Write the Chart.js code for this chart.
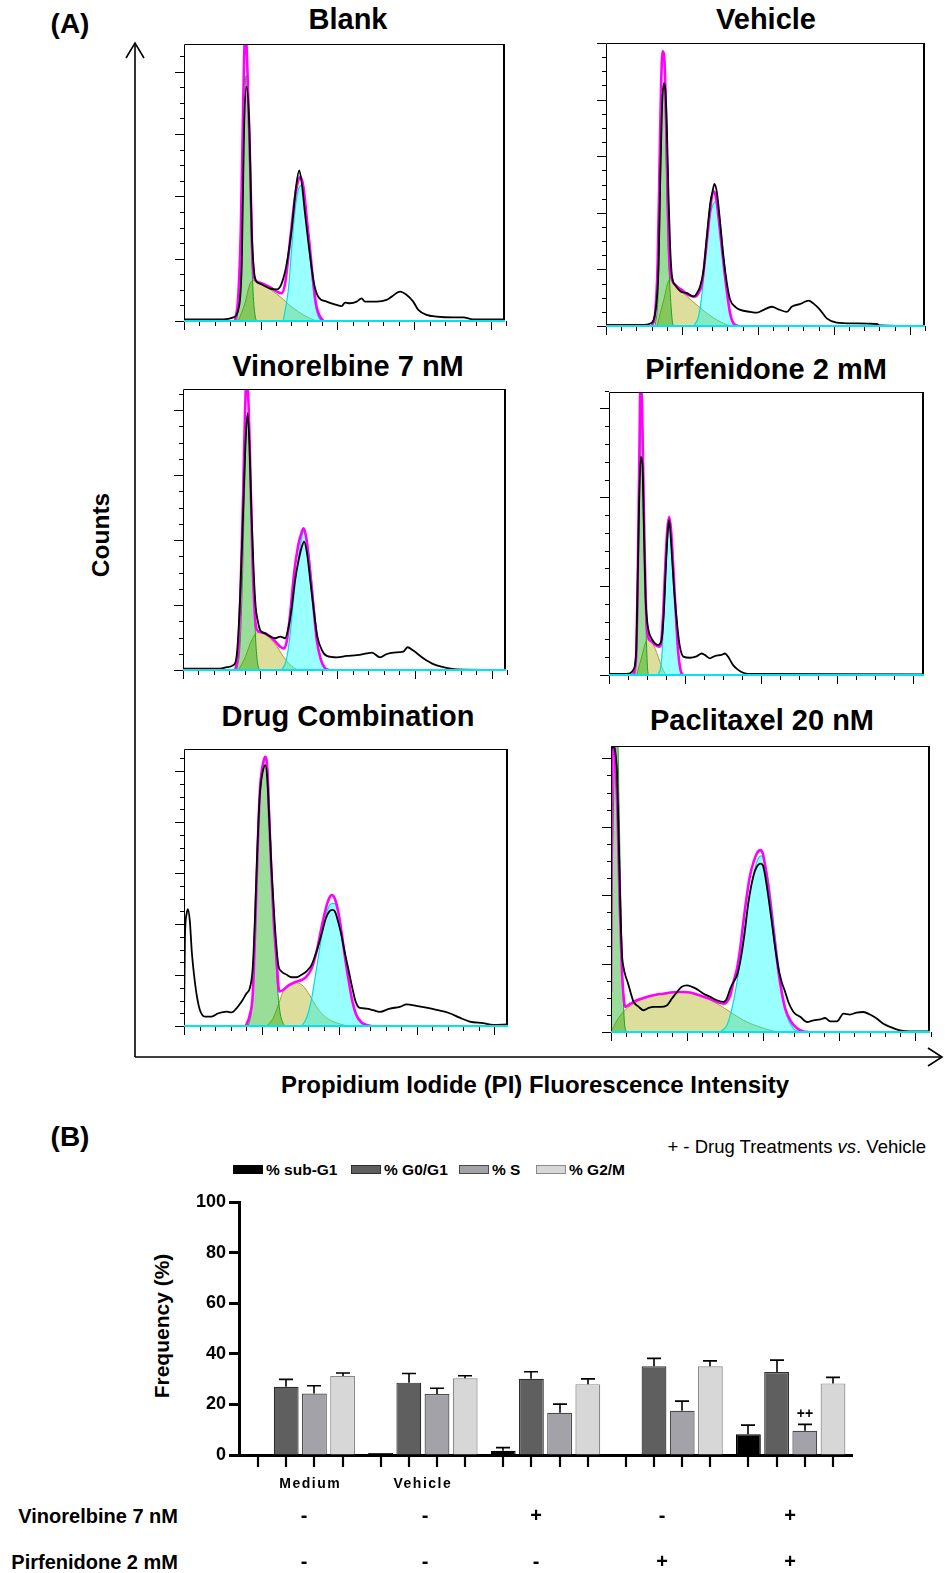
<!DOCTYPE html>
<html>
<head>
<meta charset="utf-8">
<title>Cell cycle analysis</title>
<script src="https://cdn.jsdelivr.net/npm/chart.js@4.4.1/dist/chart.umd.min.js"></script>
<style>
  body { margin: 0; background: #fff; }
  #page { position: relative; width: 945px; height: 1573px; overflow: hidden;
          font-family: 'Liberation Sans', Arial, sans-serif; color: #000; }
  #page canvas, #page svg { position: absolute; }
  .t { position: absolute; white-space: nowrap; font-weight: bold; transform: translate(-50%, -50%); }
  .r { position: absolute; white-space: nowrap; font-weight: bold; transform: translate(-100%, -50%); }
  .l { position: absolute; white-space: nowrap; font-weight: bold; transform: translate(0, -50%); }
  .title { font-size: 29px; }
  .sw { position: absolute; width: 30px; height: 9px; box-sizing: border-box; }
</style>
</head>
<body>
<div id="page">
  <svg width="945" height="1573" style="left:0;top:0">
    <g stroke="#000" stroke-width="1.6" fill="none">
      <line x1="135" y1="44" x2="135" y2="1057"/>
      <polyline points="126,58 135,43 144,58"/>
      <line x1="135" y1="1057" x2="941" y2="1057"/>
      <polyline points="928,1048 942,1057 928,1066"/>
    </g>
  </svg>

  <div class="t" style="left:70px;top:24px;font-size:28px">(A)</div>
  <div class="t title" style="left:348px;top:19px">Blank</div>
  <div class="t title" style="left:766px;top:19px">Vehicle</div>
  <div class="t title" style="left:348px;top:366px">Vinorelbine 7 nM</div>
  <div class="t title" style="left:766px;top:369px">Pirfenidone 2 mM</div>
  <div class="t title" style="left:348px;top:716px">Drug Combination</div>
  <div class="t title" style="left:762px;top:720px">Paclitaxel 20 nM</div>
  <div class="t" style="left:101px;top:535px;font-size:24.5px;transform:translate(-50%,-50%) rotate(-90deg)">Counts</div>
  <div class="t" style="left:535px;top:1085px;font-size:24px">Propidium Iodide (PI) Fluorescence Intensity</div>

  <canvas id="hBlank"></canvas>
  <canvas id="hVehicle"></canvas>
  <canvas id="hVino"></canvas>
  <canvas id="hPirf"></canvas>
  <canvas id="hCombo"></canvas>
  <canvas id="hPacli"></canvas>

  <div class="t" style="left:70px;top:1137px;font-size:28px">(B)</div>
  <div class="r" style="left:926px;top:1147px;font-size:18.5px;font-weight:normal">+ - Drug Treatments <i>vs</i>. Vehicle</div>
  <div id="legend"></div>
  <div class="t" style="left:162px;top:1326px;font-size:21px;transform:translate(-50%,-50%) rotate(-90deg)">Frequency (%)</div>
  <div class="r" style="left:178px;top:1516px;font-size:20px">Vinorelbine 7 nM</div>
  <div class="r" style="left:178px;top:1562px;font-size:20px">Pirfenidone 2 mM</div>

  <canvas id="cycle"></canvas>
</div>

<script>
// ---- (A) DNA content histograms: [channel %, counts % of frame] ----
// black = measured counts, magenta = model fit, green = G0/G1, yellow = S, cyan = G2/M

const blankCounts = [[0,0.6],[12.3,0.6],[15.4,1.3],[16.9,4],[18,20.5],[18.7,68.7],[19.5,84.6],[20.4,68.7],[21.1,32.6],[21.8,18.2],[22.4,14.6],[23.7,13.5],[26.8,11.7],[28.9,11.4],[30.4,13.5],[32,20.7],[33.5,32.7],[34.9,48.4],[35.9,54.4],[36.7,49.6],[37.7,38.8],[39.3,23.2],[40.5,13.6],[41.8,8.8],[44.4,7],[47.6,5.8],[49.1,5.4],[50.2,6.6],[51.7,6.4],[53.8,7],[55.3,8.2],[56.4,7],[60,7],[63.1,7.6],[64.7,8.8],[67.3,10.6],[69.4,9.4],[71.4,7],[73,4],[75.6,2.2],[78.7,1.6],[83.9,1.3],[87,1.3],[90.1,0.6],[100,0.6]];
const blankFit = [[15.9,0],[16.9,8.8],[17.7,32.9],[18.3,69],[18.7,93.1],[19,103],[19.5,99],[20,80.9],[20.6,56.8],[21.2,26.7],[21.8,16],[22.8,14.2],[24.7,13.4],[26.8,12.2],[28.9,10.6],[30.4,10],[31.5,13.5],[32.5,23.1],[33.5,34],[34.6,44.8],[35.6,50.8],[36.3,52],[37.2,48.4],[38.2,37.6],[39.3,25.5],[40.3,13.5],[41.3,5.1],[42.4,1.6],[43.4,0]];
const blankG1 = [[16.4,0],[17.4,11.2],[18,32.9],[18.5,63],[19.1,85.9],[19.5,88.8],[19.9,81.2],[20.4,57.2],[21,27.1],[21.6,8.8],[22.2,1.6],[22.6,0]];
const blankS = [[16.9,0],[19,6.4],[20.6,13.6],[21.8,14.6],[23.7,13.8],[25.8,12.3],[27.8,10.6],[29.9,8.8],[32,6.6],[34.1,4.6],[37.2,2.2],[40.3,0.4],[41.8,0]];
const blankG2 = [[30.9,0],[32.5,11.2],[33.5,25.6],[34.6,40.1],[35.6,47.3],[36.7,49.1],[37.7,43.7],[38.7,30.5],[39.8,17.3],[40.8,6.4],[41.8,1.6],[42.9,0]];

const vehicleCounts = [[0,0.4],[11.8,0.4],[13.9,0.9],[14.9,2.1],[16,10.4],[16.5,22.2],[17,51.4],[17.5,75],[18.1,85.8],[18.6,83.5],[19.1,69.3],[19.6,45.8],[20.1,28.1],[20.7,17.5],[21.7,14.5],[23.3,12.3],[25.4,11.6],[27.5,10.4],[28.5,11.6],[29.5,14],[30.6,19.8],[31.6,31.6],[32.7,43.4],[33.5,48.1],[34,50.2],[34.8,46.9],[35.8,36.3],[36.8,24.5],[37.9,15.1],[38.9,9.4],[40.5,6.8],[42.1,5.7],[45.2,5],[47.3,4.7],[49.4,5.7],[52,6.8],[54.1,5.9],[56.7,5],[58.2,6.8],[60.9,7.8],[63.5,9],[65,8],[67.1,5.7],[69.2,2.7],[72.3,1.2],[77.6,0.9],[84.9,0.7],[85.9,0.2],[100,0]];
const vehicleFit = [[14.4,0],[15.4,4.5],[16.2,22.2],[16.7,51.7],[17.2,81.1],[17.7,97.1],[18.3,94.1],[18.8,75.2],[19.3,45.8],[19.9,22.2],[20.7,16.3],[21.7,14.5],[23.8,12.7],[25.9,10.9],[28,10.4],[29,11.6],[30.1,15.1],[31.1,24.5],[32.2,36.3],[33.2,45.8],[33.9,47.5],[34.6,44.6],[35.6,35.1],[36.6,24.5],[37.7,13.9],[38.9,4.5],[40,0.9],[41.5,0]];
const vehicleG1 = [[15.4,0],[16.3,10.4],[16.8,34],[17.3,63.4],[17.8,84],[18.3,84.1],[18.7,69.3],[19.1,45.8],[19.7,22.2],[20.4,6.8],[21,0.4],[21.4,0]];
const vehicleS = [[16,0],[18.1,9.2],[19.9,16.3],[22.2,14],[25.4,10.4],[28.5,7.4],[31.6,4.5],[34.8,2.1],[37.9,0.4],[38.9,0]];
const vehicleG2 = [[27.5,0],[29,3.3],[30.1,11.6],[31.1,24.5],[32.2,36.3],[33.5,42.8],[34.6,44],[35.6,38.7],[36.6,28.1],[37.7,16.3],[38.9,4.5],[40,0.9],[41,0]];

const vinoCounts = [[0,0.5],[11.5,0.5],[13.6,1],[15.7,1.8],[16.7,5.9],[17.7,26.1],[18.6,55.8],[19.3,79.5],[20,91.4],[20.6,79.5],[21.2,55.8],[21.9,34.4],[22.5,22.5],[23.1,17.8],[23.9,14.2],[25.5,13],[27,11.9],[28.6,11.3],[30.1,11.9],[31.6,11.3],[32.7,15.4],[33.7,22.5],[34.7,32],[35.8,39.1],[36.8,43.9],[37.5,45.7],[38.4,41.5],[39.4,32],[40.6,20.2],[41.6,11.9],[43,7.1],[44.5,5],[47.6,4.5],[50.7,5],[53.8,5.3],[56.9,5.9],[58.5,6.2],[61,4.5],[63.1,5.7],[65.2,6.2],[68.2,6.5],[69.5,8.1],[71.3,6.9],[74.4,4.2],[77.5,2.1],[80.6,1],[84.7,0.2],[100,0]];
const vinoFit = [[16.2,0],[17.2,8.3],[17.9,32],[18.6,61.7],[19.2,91.3],[19.6,103],[20.2,97],[20.8,73.5],[21.4,43.9],[22.1,22.5],[22.7,14.8],[23.7,13.6],[25.5,13],[27,11.9],[28.6,10.1],[30.1,8.3],[31.3,7.7],[32.2,10.7],[33.2,20.2],[34.4,34.4],[35.8,45.1],[36.8,49.2],[37.3,50.4],[38.1,47.4],[39.2,36.8],[40.4,22.5],[41.4,10.7],[42.7,3.6],[44,0.6],[45.1,0]];
const vinoG1 = [[16.7,0],[17.7,9.5],[18.4,32],[19,61.7],[19.6,85.4],[20.1,91.3],[20.6,81.7],[21.2,55.8],[21.9,29.7],[22.5,10.7],[23.1,2.4],[23.7,0]];
const vinoS = [[17.2,0],[19.3,4.7],[21.3,10.7],[23.1,13.3],[24.9,13],[27,11.2],[29.1,8.3],[31.1,4.7],[33.2,1.8],[35.3,0.2],[36.3,0]];
const vinoG2 = [[30.6,0],[32,3.6],[33.2,13],[34.4,27.3],[35.8,40.3],[36.8,47.4],[37.5,49.2],[38.4,46.3],[39.4,36.8],[40.6,22.5],[41.6,10.7],[43,2.4],[44.5,0]];

const pirfCounts = [[0,0.4],[5.6,0.4],[6.7,0.6],[7.7,1.8],[8.6,7.6],[9.1,33.5],[9.6,62.9],[10.1,77.1],[10.6,74.7],[11.1,51.2],[11.6,27.6],[12.2,18.2],[12.8,14.7],[13.5,12.9],[14.6,11.2],[15.6,10.6],[16.7,12.4],[17.4,21.8],[18.1,39.4],[18.7,51.2],[19.1,54.7],[19.8,45.3],[20.6,31.2],[21.7,17.1],[22.5,10],[23.6,6.5],[25.7,6.1],[27.8,6.6],[29.4,7.6],[30.4,7.1],[32,5.9],[33.6,6.7],[35.7,7.1],[36.8,7.6],[37.8,6.5],[39.4,3.5],[41,1.8],[42.6,0.8],[44.2,0.4],[100,0.2]];
const pirfFit = [[7.7,0],[8.6,6.5],[9.1,33.5],[9.6,74.7],[10,103],[10.5,95],[10.9,68.8],[11.4,39.4],[11.9,19.4],[12.6,12.9],[13.6,11.8],[14.7,10.6],[16,10],[16.5,11.2],[17.2,21.8],[17.9,39.4],[18.5,51.2],[19.1,55.9],[19.7,51.2],[20.4,38.2],[21.2,21.8],[22,7.6],[22.7,1.8],[23.4,0]];
const pirfG1 = [[8.2,0],[9,15.9],[9.5,51.2],[9.9,80.6],[10.4,93.5],[10.9,74.7],[11.3,45.3],[11.7,19.4],[12.2,2.9],[12.5,0]];
const pirfS = [[8.8,0],[10.4,6.5],[11.7,11.8],[12.5,12.6],[13.5,11.8],[14.6,9.4],[15.6,6.5],[16.7,2.9],[17.8,0.6],[18.3,0]];
const pirfG2 = [[15.6,0],[16.7,5.3],[17.4,21.8],[18.1,39.4],[18.7,52.4],[19.2,55.3],[19.9,47.6],[20.6,31.2],[21.5,14.7],[22.3,4.1],[23,0]];

const comboCounts = [[0,1],[0.3,32.5],[0.8,40.4],[1.2,42.2],[1.8,37.9],[2.4,26.9],[3.1,18.5],[3.9,11.3],[4.9,5.8],[6.5,3.4],[8.5,3.4],[10.6,4.6],[13.2,5.2],[14.7,4.9],[16.2,6.4],[17.8,8.8],[19.3,11.8],[20.3,13.6],[21.2,20.8],[21.9,38.9],[22.6,62.9],[23.4,83.4],[24.3,91.8],[25.1,94.2],[25.7,89.4],[26.3,75.1],[27,57],[27.7,42.6],[28.4,30.6],[29.1,22.1],[30.1,19.7],[31.7,18.5],[33.2,17.6],[34.7,17.6],[36.3,18.5],[37.8,19.7],[39.4,22.1],[40.9,26.9],[42.4,32.9],[43.8,38.9],[44.8,41.3],[45.8,41.9],[46.6,41.3],[47.6,37.5],[48.6,32.7],[49.6,26.7],[50.7,20.7],[52,13.5],[53,8.7],[54.3,6.5],[56.3,6.3],[58.4,5.7],[60.4,5.1],[63.5,6.3],[66.6,6.9],[68.7,7.8],[71.7,7.3],[74.8,6.6],[77.9,5.8],[82,4.6],[85.1,3],[88.2,1.6],[92.3,1],[95.4,0.4],[100,0.6]];
const comboFit = [[19.1,0],[20.3,4],[21.2,11.2],[21.9,32.9],[22.6,59.4],[23.4,84.6],[24.3,94.2],[25.1,97.2],[25.7,93],[26.3,75.1],[27,54.6],[27.7,37.7],[28.6,23.3],[29.4,12.5],[30.6,13],[32.2,14.6],[34.2,15.8],[36.3,16.6],[37.8,17.8],[39.4,20.8],[40.9,26.8],[42.4,35.3],[43.8,42.5],[44.8,46.1],[45.6,47.3],[46.5,46.1],[47.6,41.3],[48.6,34.1],[49.6,25.6],[50.7,17.2],[52,8.8],[53.2,4],[54.8,1.3],[56.3,0.4],[57.9,0]];
const comboG1 = [[19.8,0],[20.9,6.4],[21.6,20.8],[22.4,50.9],[23.2,81],[24,91.8],[25.3,96.6],[25.9,91.8],[26.5,75.1],[27.3,51],[28.1,30.6],[28.8,14.9],[29.6,5.2],[30.6,1],[31.1,0]];
const comboS = [[25.5,0],[27.5,2.8],[29.1,7.6],[30.6,12.4],[32.7,15],[34.7,15.6],[36.8,14.4],[38.8,11.1],[40.9,6.9],[43,3.9],[46,1.6],[49.1,0.4],[50.2,0]];
const comboG2 = [[36.3,0],[37.8,2.8],[39.4,10],[40.9,20.8],[42.4,31.6],[43.8,40.1],[45,43.7],[46,44.3],[46.9,43.7],[47.9,38.9],[49.1,29.2],[50.4,19.6],[51.7,10],[53,4],[54.8,1],[56.3,0]];

const pacliCounts = [[0,98],[0.4,99.5],[1,99.5],[1.5,96.4],[1.9,90.6],[2.4,68.8],[2.9,45.5],[3.4,28],[4,22.2],[4.5,19.8],[5.2,17.5],[6.1,14],[7.1,10.5],[8.7,8.8],[10.2,7.6],[11.8,8.4],[13.4,8.8],[15.4,8.8],[17.5,9.3],[19.1,11.7],[20.7,14],[22.2,15.8],[23.8,16.3],[25.4,15.8],[26.9,15],[29,13.4],[31.1,12.3],[33.2,11.1],[35.3,10.5],[36.3,11.7],[37.4,15.2],[38.4,17.5],[39.5,19.8],[40.5,24.5],[41.8,33.8],[43.1,45.5],[44.7,54.8],[45.7,57.8],[46.8,58.9],[47.6,58.3],[48.3,54.8],[49.4,46.7],[50.4,38.5],[51.5,29.2],[52.5,22.2],[53.5,17.5],[54.6,14],[55.6,10.5],[57.2,7],[59.3,5.3],[61.4,3.5],[63.5,4.1],[65.6,4.4],[67.1,4.9],[68.7,3.7],[70.8,3.7],[72.9,6.4],[74.9,6.1],[77,6.8],[79.1,7],[81.2,6.1],[83.3,4.7],[85.4,2.9],[87.5,1.8],[90.6,0.6],[93.7,0.2],[100,0.2]];
const pacliFit = [[0,14],[0.2,60],[0.5,101],[1,103],[1.4,94.5],[2.1,74.7],[2.7,45.5],[3.4,22.2],[4,11.7],[4.5,8.8],[6.1,9.9],[8.1,11.1],[10.2,11.9],[12.3,12.6],[14.4,13.1],[16.5,13.4],[18.6,13.8],[20.7,14],[22.8,14],[24.8,13.8],[26.9,13.1],[29,12.3],[31.1,11.5],[33.2,10.5],[35.3,9.9],[36.3,10.5],[37.4,12.8],[38.4,17.5],[39.5,22.2],[40.5,29.2],[41.5,38.5],[42.6,47.8],[43.6,54.8],[44.7,59.5],[45.7,62.4],[46.8,63.6],[47.6,62.4],[48.3,58.3],[49.4,50.2],[50.4,40.8],[51.5,30.3],[52.5,21],[53.5,14],[54.6,8.2],[56.2,4.1],[58.2,1.4],[60.3,0.2],[61.9,0]];
const pacliG1 = [[0,0],[0.2,33.8],[0.8,80.5],[1.4,101],[2.1,102],[2.5,80.5],[3.1,45.5],[3.7,16.3],[4.2,3.5],[4.8,0]];
const pacliS = [[0,0],[1.9,4.1],[4,7.2],[7.1,9.9],[10.2,11.7],[14.4,13.1],[18.6,13.8],[21.7,14],[24.8,13.8],[29,12.3],[33.2,9.9],[37.4,7],[41.5,4.1],[45.7,2.1],[49.9,0.6],[52,0]];
const pacliG2 = [[34.2,0],[36.3,2.3],[37.9,8.2],[39.5,17.5],[41,29.2],[42.6,42],[44.2,52.5],[45.7,59.5],[47,61.6],[48,60.1],[49.4,52.5],[50.7,40.8],[52,28],[53.5,15.2],[55.1,5.8],[57.2,1.2],[59.3,0]];

// ---- (B) cell-cycle phase distribution ----
const groups = ['Medium', 'Vehicle', '', '', ''];
const subG1 = [0.3, 0.8, 1.7, 0, 8.2];
const subG1Sd = [0, 0, 1.2, 0, 3.6];
const g0g1 = [27.0, 28.6, 30.1, 35.1, 32.8];
const g0g1Sd = [2.9, 3.6, 2.8, 3.1, 4.7];
const sPhase = [24.3, 24.1, 16.7, 17.5, 9.6];
const sPhaseSd = [3.1, 2.3, 3.4, 3.8, 2.5];
const g2m = [31.2, 30.3, 28.0, 35.1, 28.3];
const g2mSd = [1.2, 1.0, 2.1, 2.1, 2.4];
const sPhaseMarks = ['', '', '', '', '++'];
const vinorelbine = ['-', '-', '+', '-', '+'];
const pirfenidone = ['-', '-', '-', '+', '+'];
const phaseNames = ['% sub-G1', '% G0/G1', '% S', '% G2/M'];

Chart.defaults.font.family = "'Liberation Sans', Arial, sans-serif";
Chart.defaults.color = '#000';

// frame, outward ticks and cyan baseline of each histogram
const histFrame = {
  id: 'histFrame',
  afterDatasetsDraw(chart, args, o) {
    const { ctx, chartArea: a, scales: { x, y } } = chart;
    ctx.save();
    ctx.strokeStyle = '#000';
    ctx.lineWidth = 1;
    ctx.beginPath();
    ctx.moveTo(a.left + 0.5, a.bottom);
    ctx.lineTo(a.left + 0.5, a.top + 0.5);
    ctx.lineTo(a.right, a.top + 0.5);
    ctx.stroke();
    ctx.lineWidth = 2;
    ctx.beginPath();
    ctx.moveTo(a.right - 1, a.top);
    ctx.lineTo(a.right - 1, a.bottom);
    ctx.stroke();

    ctx.lineWidth = 1;
    ctx.beginPath();
    for (let i = 0; i * o.yStep <= 100.5; i++) {
      const py = Math.round(y.getPixelForValue(i * o.yStep)) + 0.5;
      const len = i % o.yMajor === 0 ? 9 : 4;
      ctx.moveTo(a.left - len, py);
      ctx.lineTo(a.left, py);
    }
    for (let i = 0; i * o.xStep <= 100.5; i++) {
      const px = Math.round(x.getPixelForValue(i * o.xStep)) + 0.5;
      const len = i % o.xMajor === 0 ? 9 : 5;
      ctx.moveTo(px, a.bottom);
      ctx.lineTo(px, a.bottom + len);
    }
    ctx.stroke();

    ctx.strokeStyle = '#00e6f0';
    ctx.lineWidth = 2;
    ctx.beginPath();
    ctx.moveTo(a.left, a.bottom);
    ctx.lineTo(a.right, a.bottom);
    ctx.stroke();
    ctx.restore();
  }
};

function curve(points, opts) {
  return Object.assign({
    data: points.map(([x, y]) => ({ x, y })),
    pointRadius: 0,
    cubicInterpolationMode: 'monotone',
    fill: false
  }, opts);
}

const panels = [
  { id: 'hBlank',   box: [184, 44, 505, 321],  c: blankCounts,   f: blankFit,   g1: blankG1,   s: blankS,   g2: blankG2,   xStep: 4.78, xMajor: 5, yStep: 5.625, yMajor: 4 },
  { id: 'hVehicle', box: [606, 43, 925, 326],  c: vehicleCounts, f: vehicleFit, g1: vehicleG1, s: vehicleS, g2: vehicleG2, xStep: 4.76, xMajor: 5, yStep: 5.0,   yMajor: 4 },
  { id: 'hVino',    box: [183, 389, 506, 670], c: vinoCounts,    f: vinoFit,    g1: vinoG1,    s: vinoS,    g2: vinoG2,    xStep: 4.78, xMajor: 5, yStep: 5.78,  yMajor: 4 },
  { id: 'hPirf',    box: [609, 392, 924, 675], c: pirfCounts,    f: pirfFit,    g1: pirfG1,    s: pirfS,    g2: pirfG2,    xStep: 6.03, xMajor: 4, yStep: 6.28,  yMajor: 5 },
  { id: 'hCombo',   box: [184, 749, 508, 1026],c: comboCounts,   f: comboFit,   g1: comboG1,   s: comboS,   g2: comboG2,   xStep: 4.79, xMajor: 5, yStep: 4.6,   yMajor: 4 },
  { id: 'hPacli',   box: [611, 746, 930, 1032],c: pacliCounts,   f: pacliFit,   g1: pacliG1,   s: pacliS,   g2: pacliG2,   xStep: 4.77, xMajor: 5, yStep: 5.98,  yMajor: 4 }
];

const pad = { left: 14, top: 2, right: 4, bottom: 12 };

panels.forEach(p => {
  const [l, t, r, b] = p.box;
  const cv = document.getElementById(p.id);
  cv.width = r - l + pad.left + pad.right;
  cv.height = b - t + pad.top + pad.bottom;
  cv.style.left = (l - pad.left) + 'px';
  cv.style.top = (t - pad.top) + 'px';

  new Chart(cv, {
    type: 'line',
    data: {
      datasets: [
        curve(p.c,  { borderColor: '#000', borderWidth: 1.8, order: 0 }),
        curve(p.f,  { borderColor: '#ff00ff', borderWidth: 2.6, order: 1 }),
        curve(p.g2, { borderColor: '#00dede', borderWidth: 1.2, backgroundColor: 'rgba(0,255,255,0.4)', fill: 'origin', order: 2 }),
        curve(p.g1, { borderColor: '#1f9f1f', borderWidth: 1, backgroundColor: 'rgba(0,170,0,0.4)', fill: 'origin', order: 3 }),
        curve(p.s,  { borderColor: '#a8a028', borderWidth: 1, backgroundColor: 'rgba(175,175,20,0.42)', fill: 'origin', order: 4 })
      ]
    },
    options: {
      responsive: false,
      animation: false,
      devicePixelRatio: 1,
      events: [],
      layout: { padding: pad },
      scales: {
        x: { type: 'linear', min: 0, max: 100, display: false },
        y: { min: 0, max: 100, display: false }
      },
      plugins: {
        legend: { display: false },
        tooltip: { enabled: false },
        histFrame: { xStep: p.xStep, xMajor: p.xMajor, yStep: p.yStep, yMajor: p.yMajor }
      }
    },
    plugins: [histFrame]
  });
});

// ---- (B) bar chart ----
const phaseFill = ['#000000', '#5f5f5f', '#a2a2a8', '#d7d7d7'];
const phaseEdge = ['#000000', '#2e2e2e', '#4a4a4a', '#8a8a8a'];
const sdSets = [subG1Sd, g0g1Sd, sPhaseSd, g2mSd];

// legend
const legendPos = [233, 351, 459, 536];
const legend = document.getElementById('legend');
phaseNames.forEach((name, i) => {
  const sw = document.createElement('div');
  sw.className = 'sw';
  sw.style.left = legendPos[i] + 'px';
  sw.style.top = '1165px';
  sw.style.background = phaseFill[i];
  sw.style.border = '1px solid ' + phaseEdge[i];
  legend.appendChild(sw);
  const tx = document.createElement('div');
  tx.className = 'l';
  tx.style.left = (legendPos[i] + 33) + 'px';
  tx.style.top = '1170px';
  tx.style.fontSize = '15.5px';
  tx.textContent = name;
  legend.appendChild(tx);
});

// table columns under the plot
const signCols = [304, 425, 536, 662, 790];

// error bars, bar ticks, group names, significance marks and treatment rows
const cycleDecor = {
  id: 'cycleDecor',
  afterDatasetsDraw(chart) {
    const { ctx, chartArea: a, scales: { x, y } } = chart;
    const fam = Chart.defaults.font.family;
    ctx.save();
    ctx.strokeStyle = '#000';
    ctx.fillStyle = '#000';
    ctx.textAlign = 'center';
    ctx.textBaseline = 'middle';
    chart.data.datasets.forEach((ds, i) => {
      const meta = chart.getDatasetMeta(i);
      meta.data.forEach((bar, j) => {
        const px = Math.round(bar.x);
        const sd = sdSets[i][j];
        if (sd > 0) {
          const top = y.getPixelForValue(ds.data[j] + sd);
          ctx.lineWidth = 1.6;
          ctx.beginPath();
          ctx.moveTo(px, bar.y);
          ctx.lineTo(px, top);
          ctx.moveTo(px - 7, top);
          ctx.lineTo(px + 7, top);
          ctx.stroke();
          if (i === 2 && sPhaseMarks[j]) {
            ctx.font = 'bold 14px ' + fam;
            ctx.fillText(sPhaseMarks[j], px, top - 10);
          }
        }
        ctx.lineWidth = 2.2;
        ctx.beginPath();
        ctx.moveTo(px, a.bottom + 1);
        ctx.lineTo(px, a.bottom + 12);
        ctx.stroke();
      });
    });

    ctx.font = 'bold 14px ' + fam;
    ctx.letterSpacing = '1.5px';
    groups.forEach((g, j) => {
      if (g) ctx.fillText(g, x.getPixelForValue(j) + (j === 0 ? 10 : 0), a.bottom + 29);
    });
    ctx.letterSpacing = '0px';

    ctx.font = 'bold 20px ' + fam;
    groups.forEach((g, j) => {
      ctx.fillText(vinorelbine[j], signCols[j], 416);
      ctx.fillText(pirfenidone[j], signCols[j], 462);
    });
    ctx.restore();
  }
};

const cv = document.getElementById('cycle');
cv.width = 945;
cv.height = 473;
cv.style.left = '0px';
cv.style.top = '1100px';

const values = [subG1, g0g1, sPhase, g2m];
new Chart(cv, {
  type: 'bar',
  data: {
    labels: groups,
    datasets: values.map((v, i) => ({
      label: phaseNames[i],
      data: v,
      backgroundColor: phaseFill[i],
      borderColor: phaseEdge[i],
      borderWidth: 1.2,
      categoryPercentage: 0.92,
      barPercentage: 0.88
    }))
  },
  options: {
    responsive: false,
    animation: false,
    devicePixelRatio: 1,
    events: [],
    layout: { padding: { left: 190, top: 102, right: 93, bottom: 78 } },
    scales: {
      x: {
        afterFit: s => { s.height = 40; },
        grid: { display: false, drawTicks: false },
        border: { display: true, width: 3, color: '#000' },
        ticks: { display: false }
      },
      y: {
        min: 0,
        max: 100,
        afterFit: s => { s.width = 49; },
        grid: { drawOnChartArea: false, tickLength: 10, tickWidth: 3, tickColor: '#000' },
        border: { display: true, width: 3, color: '#000' },
        ticks: { stepSize: 20, font: { size: 18, weight: 'bold' }, padding: 3 }
      }
    },
    plugins: { legend: { display: false }, tooltip: { enabled: false } }
  },
  plugins: [cycleDecor]
});
</script>
</body>
</html>
